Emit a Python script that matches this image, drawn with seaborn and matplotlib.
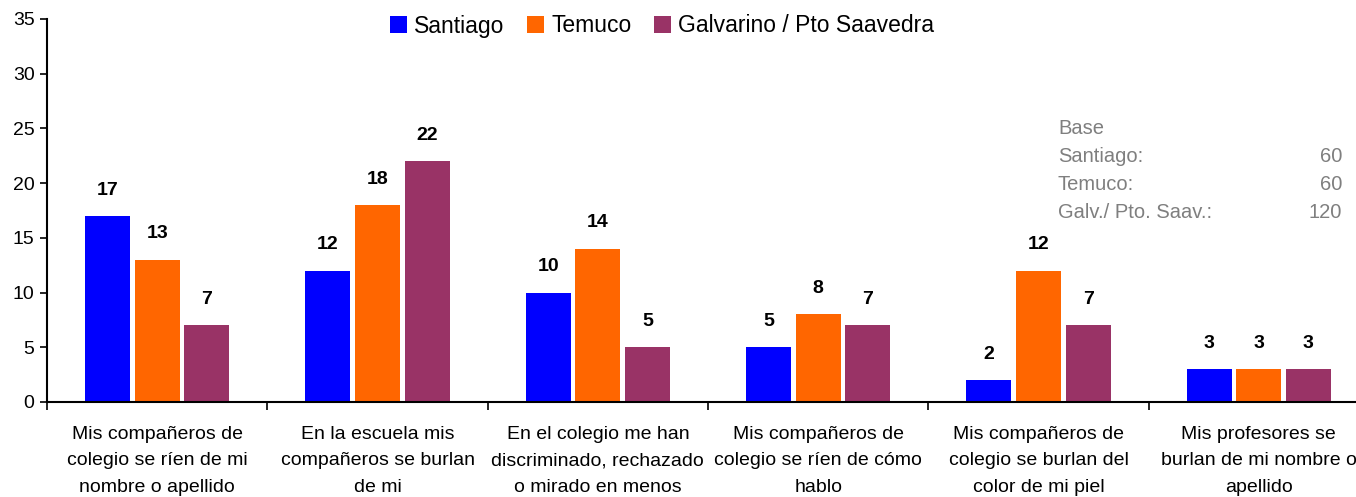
import pandas as pd
import matplotlib
matplotlib.use("Agg")
import matplotlib.pyplot as plt
import seaborn as sns

# -----------------------
# Data
# -----------------------
categories = [
    "Mis compañeros de\ncolegio se ríen de mi\nnombre o apellido",
    "En la escuela mis\ncompañeros se burlan\nde mi",
    "En el colegio me han\ndiscriminado, rechazado\no mirado en menos",
    "Mis compañeros de\ncolegio se ríen de cómo\nhablo",
    "Mis compañeros de\ncolegio se burlan del\ncolor de mi piel",
    "Mis profesores se\nburlan de mi nombre o\napellido",
]
series = ["Santiago", "Temuco", "Galvarino / Pto Saavedra"]
santiago = [17, 12, 10, 5, 2, 3]
temuco = [13, 18, 14, 8, 12, 3]
galvarino = [7, 22, 5, 7, 7, 3]

base_labels = ["Santiago:", "Temuco:", "Galv./ Pto. Saav.:"]
base_values = [60, 60, 120]

colors = ["#0000FF", "#FF6600", "#993366"]

df = pd.DataFrame({
    "cat": categories * 3,
    "serie": [s for s in series for _ in categories],
    "valor": santiago + temuco + galvarino,
})

# -----------------------
# Figure
# -----------------------
sns.set_style("white")
plt.rcParams["font.family"] = ["Liberation Sans", "DejaVu Sans"]
plt.rcParams["text.color"] = "black"
plt.rcParams["xtick.color"] = "black"
plt.rcParams["ytick.color"] = "black"

fig = plt.figure(figsize=(13.56, 4.97), dpi=100)
ax = fig.add_axes([47 / 1356, 95 / 497, 1322 / 1356, 383 / 497])

sns.barplot(data=df, x="cat", y="valor", hue="serie", order=categories,
            hue_order=series, palette=colors, width=0.675, gap=0.09,
            saturation=1, linewidth=0, ax=ax, legend=True)

for cont in ax.containers:
    for bar in cont:
        h = bar.get_height()
        ax.annotate(f"{h:.0f}", (bar.get_x() + bar.get_width() / 2, h),
                    xytext=(0, 12.5), textcoords="offset points",
                    ha="center", va="bottom", fontsize=14, fontweight="bold",
                    color="black")

ax.set_ylim(0, 35)
ax.set_yticks(range(0, 36, 5))
ax.set_xlim(-0.5, len(categories) - 0.5)

# ticks at category boundaries, labels at centres
ax.set_xticks([i - 0.5 for i in range(len(categories) + 1)])
ax.set_xticklabels([])
ax.set_xticks(range(len(categories)), minor=True)
ax.set_xticklabels(categories, minor=True, fontsize=14, linespacing=1.75)
ax.tick_params(axis="x", which="major", direction="out", length=6, width=1.2,
               color="black", bottom=True)
ax.tick_params(axis="x", which="minor", length=0, pad=17)
ax.tick_params(axis="y", direction="out", length=5, width=1.2, color="black",
               left=True, labelsize=14, pad=4)

ax.set_xlabel("")
ax.set_ylabel("")
sns.despine(ax=ax)
for side in ["left", "bottom"]:
    ax.spines[side].set_color("black")
    ax.spines[side].set_linewidth(1.5)

ax.legend(loc="center", bbox_to_anchor=(662 / 1356, 1 - 26 / 497),
          bbox_transform=fig.transFigure, ncol=3, frameon=False,
          fontsize=16.5, handlelength=0.75, handleheight=0.75,
          handletextpad=0.3, columnspacing=1.0, borderpad=0)

# Base box
gray = "#7F7F7F"
fig.text(1058 / 1356, 1 - 128 / 497, "Base", fontsize=14.5, color=gray,
         va="center", ha="left")
for i, (lab, val) in enumerate(zip(base_labels, base_values)):
    y = 1 - (156 + i * 28.5) / 497
    fig.text(1058 / 1356, y, lab, fontsize=14.5, color=gray, va="center", ha="left")
    fig.text(1342 / 1356, y, str(val), fontsize=14.5, color=gray, va="center", ha="right")

plt.savefig("out.png", dpi=100)
